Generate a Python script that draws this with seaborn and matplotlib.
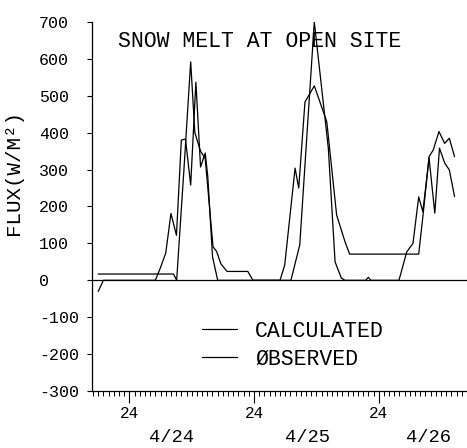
import numpy as np
import pandas as pd
import matplotlib
matplotlib.use("Agg")
import matplotlib.pyplot as plt
import matplotlib.transforms as mtransforms
from matplotlib.ticker import MultipleLocator, FixedLocator
import seaborn as sns

# Hourly melt flux series (hours counted from 4/23 00:00)
calc_hours = [18, 32.5, 33.1, 34.5, 35.8, 36.6, 37.7, 38.6, 40.1, 40.8, 41.6, 42.8,
              46.8, 47.8, 53.0, 53.9, 55.9, 56.6, 57.8, 59.6, 62.0, 63.9, 65.5, 66.4,
              79.7, 80.5, 81.7, 82.5, 83.6, 84.7, 85.6, 86.6]
calc_flux = [17, 17, 0, 300, 592, 400, 350, 330, 91, 78, 45, 24,
             24, 0, 0, 41, 304, 250, 483, 527, 430, 177, 105, 71,
             71, 172, 335, 353, 403, 371, 385, 335]

obs_hours = [18, 19, 29, 30, 31, 32, 33.06, 34.0, 34.8, 35.8, 36.8, 37.7, 38.6, 39.1,
             40.0, 41.0, 55.1, 56.8, 59.6, 62.3, 63.6, 64.8, 65.5, 69.5, 70.0, 70.5,
             75.9, 77.4, 78.6, 79.7, 80.5, 81.7, 82.8, 83.7, 84.7, 85.6, 86.6]
obs_flux = [-30, 0, 0, 35, 74, 181, 122, 380, 383, 258, 537, 307, 345, 280,
            64, 0, 0, 96, 700, 358, 50, 6, 0, 0, 8, 0,
            0, 77, 100, 226, 186, 331, 182, 358, 318, 299, 227]

series_names = ["CALCULATED", "ØBSERVED"]
day_labels = ["4/24", "4/25", "4/26"]
day_label_pos = [32.05, 58.2, 81.5]
y_ticks = list(range(-300, 701, 100))
x_major = [24, 48, 72]

df = pd.concat([
    pd.DataFrame({"hour": calc_hours, "flux": calc_flux, "series": series_names[0]}),
    pd.DataFrame({"hour": obs_hours, "flux": obs_flux, "series": series_names[1]}),
], ignore_index=True)

sns.set_theme(style="ticks")
plt.rcParams["font.family"] = ["Liberation Mono", "DejaVu Sans Mono"]
plt.rcParams["axes.linewidth"] = 0.9
plt.rcParams["text.color"] = "black"

W, H = 467, 448
fig = plt.figure(figsize=(W / 100, H / 100), dpi=100)
ax = fig.add_axes([92 / W, 1 - 391 / H, 1 - 92 / W, (391 - 22) / H])

ax.axhline(0, color="black", lw=0.9, zorder=1)
sns.lineplot(data=df, x="hour", y="flux", hue="series", hue_order=series_names,
             palette={series_names[0]: "black", series_names[1]: "black"},
             estimator=None, linewidth=0.9, ax=ax)

ax.set_xlim(16.8, 89.0)
ax.set_ylim(-300, 700)
sns.despine(ax=ax)
for s in ("left", "bottom"):
    ax.spines[s].set_color("black")
    ax.spines[s].set_linewidth(0.9)

ax.yaxis.set_major_locator(FixedLocator(y_ticks))
ax.set_yticklabels([str(v) for v in y_ticks])
ax.tick_params(axis="y", direction="out", length=3.6, width=0.8, color="black",
               pad=34.6, labelsize=12, labelcolor="black")
for lab in ax.get_yticklabels():
    lab.set_horizontalalignment("left")

ax.xaxis.set_major_locator(FixedLocator(x_major))
ax.xaxis.set_minor_locator(MultipleLocator(1))
ax.set_xticklabels(["24"] * len(x_major))
ax.tick_params(axis="x", which="major", direction="out", length=8.6, width=0.8,
               color="black", pad=2, labelsize=11.5, labelcolor="black")
ax.tick_params(axis="x", which="minor", direction="out", length=3.6, width=0.7,
               color="black")

ax.set_xlabel("")
ax.set_ylabel("FLUX(W/M²)", fontsize=15, color="black")
ax.yaxis.set_label_coords((14 - 92) / 375, (391 - 172) / 369)
ax.yaxis.label.set_verticalalignment("center")

trans = mtransforms.blended_transform_factory(ax.transData, ax.transAxes)
for pos, lab in zip(day_label_pos, day_labels):
    ax.text(pos, -0.125, lab, transform=trans, ha="center", va="center",
            fontsize=13.5, color="black")

ax.text((118 - 92) / 375, (391 - 41) / 369, "SNOW MELT AT OPEN SITE",
        transform=ax.transAxes, ha="left", va="center", fontsize=15.5, color="black")

leg = ax.legend(frameon=False, loc="upper left",
                bbox_to_anchor=((202 - 92) / 375, (391 - 321) / 369),
                borderaxespad=0, borderpad=0, handlelength=1.63, handletextpad=0.84,
                labelspacing=0.3, fontsize=15.5, title=None)
for t in leg.get_texts():
    t.set_color("black")

fig.savefig("out.png", dpi=100, facecolor="white")
